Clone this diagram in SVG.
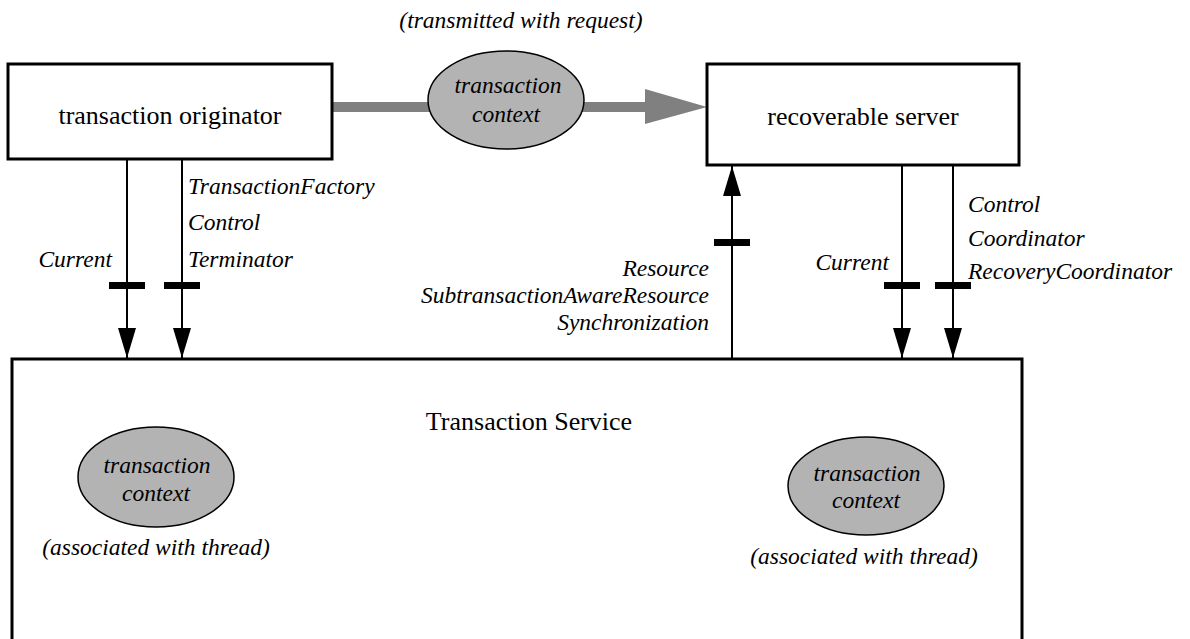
<svg xmlns="http://www.w3.org/2000/svg" width="1190" height="639" viewBox="0 0 1190 639">
<style>
.box{fill:#fff;stroke:#000;stroke-width:3}
.ctx{fill:#b3b3b3;stroke:#000;stroke-width:1.5}
.rm{font-family:"Liberation Serif","Times New Roman",serif;font-size:26px;fill:#000}
.it{font-family:"Liberation Serif","Times New Roman",serif;font-size:23.5px;font-style:italic;fill:#000}
.ln{stroke:#000;stroke-width:2;fill:none}
.tick{fill:#000}
.mid{text-anchor:middle}
.end{text-anchor:end}
</style>
<defs>
<marker id="ah" markerUnits="userSpaceOnUse" markerWidth="30" markerHeight="18" refX="30" refY="9" orient="auto" viewBox="0 0 30 18">
<path d="M0,0 L30,9 L0,18 Z" fill="#000"/>
</marker>
</defs>
<rect width="1190" height="639" fill="#fff"/>
<g id="connectors">
<rect x="332" y="102" width="313" height="10" fill="#808080"/>
<path d="M645,89 L707,107 L645,124 Z" fill="#808080"/>
<line class="ln" x1="127" y1="159" x2="127" y2="358" marker-end="url(#ah)"/>
<line class="ln" x1="182" y1="159" x2="182" y2="358" marker-end="url(#ah)"/>
<line class="ln" x1="902" y1="165" x2="902" y2="358" marker-end="url(#ah)"/>
<line class="ln" x1="953" y1="165" x2="953" y2="358" marker-end="url(#ah)"/>
<line class="ln" x1="732" y1="362" x2="732" y2="166" marker-end="url(#ah)"/>
<rect class="tick" x="109" y="282" width="36" height="7"/>
<rect class="tick" x="164" y="282" width="36" height="7"/>
<rect class="tick" x="884" y="282" width="36" height="7"/>
<rect class="tick" x="935" y="282" width="36" height="7"/>
<rect class="tick" x="714" y="239" width="36" height="7"/>
<text class="it" x="188" y="194">TransactionFactory</text>
<text class="it" x="188" y="230">Control</text>
<text class="it" x="188" y="267">Terminator</text>
<text class="it end" x="112" y="267">Current</text>
<text class="it end" x="889" y="270">Current</text>
<text class="it" x="968" y="212">Control</text>
<text class="it" x="968" y="246">Coordinator</text>
<text class="it" x="968" y="279">RecoveryCoordinator</text>
<text class="it end" x="709" y="276">Resource</text>
<text class="it end" x="709" y="303">SubtransactionAwareResource</text>
<text class="it end" x="709" y="330">Synchronization</text>
</g>
<g id="originator">
<rect class="box" x="8" y="64" width="324" height="95"/>
<text class="rm mid" x="170" y="124">transaction originator</text>
</g>
<g id="server">
<rect class="box" x="707" y="64" width="312" height="101"/>
<text class="rm mid" x="863" y="125">recoverable server</text>
</g>
<g id="context-request">
<ellipse class="ctx" cx="506" cy="100" rx="78" ry="49"/>
<text class="it mid" x="508" y="93">transaction</text>
<text class="it mid" x="506" y="122">context</text>
<text class="it mid" x="521" y="28">(transmitted with request)</text>
</g>
<g id="service">
<path class="box" d="M12,645 V359 H1022 V645"/>
<text class="rm mid" x="529" y="430">Transaction Service</text>
</g>
<g id="context-left">
<ellipse class="ctx" cx="156" cy="477" rx="78" ry="50"/>
<text class="it mid" x="157" y="473">transaction</text>
<text class="it mid" x="156" y="501">context</text>
<text class="it mid" x="156" y="555">(associated with thread)</text>
</g>
<g id="context-right">
<ellipse class="ctx" cx="866" cy="486" rx="78" ry="49"/>
<text class="it mid" x="867" y="481">transaction</text>
<text class="it mid" x="866" y="508">context</text>
<text class="it mid" x="864" y="564">(associated with thread)</text>
</g>
</svg>
